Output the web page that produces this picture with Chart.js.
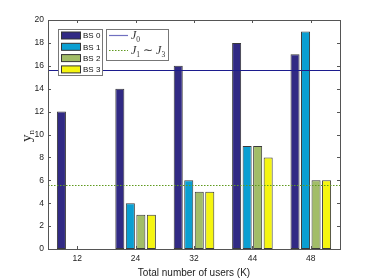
<!DOCTYPE html>
<html><head><meta charset="utf-8">
<script src="https://cdn.jsdelivr.net/npm/chart.js@4/dist/chart.umd.min.js"></script>
<style>html,body{margin:0;padding:0;background:#fff}#wrap{width:374px;height:280px}</style>
</head><body><div id="wrap"><canvas id="c" width="374" height="280"></canvas></div>
<script>
const categories = ['12','24','32','44','48'];
const bs0 = [12,14,16,18,17];
const bs1 = [0,4,6,9,19];
const bs2 = [0,3,5,9,6];
const bs3 = [0,3,5,8,6];
const seriesLabels = ['BS 0','BS 1','BS 2','BS 3'];
const seriesColors = ['#312a84','#0a9fd2','#a2bd68','#f5f510'];
const yTicks = [0,2,4,6,8,10,12,14,16,18,20];
const levelJ0 = 15.6;
const levelJ13 = 5.55;

const FONT = 'Liberation Sans, Arial, sans-serif';
const AXC = '#555';

const decor = {
  id:'decor',
  afterDatasetsDraw(chart){
    const {ctx, chartArea:a, scales:{x,y}} = chart;
    ctx.save();
    ctx.lineWidth = 1.2;
    ctx.strokeStyle = '#1c1c8e';
    let py = Math.round(y.getPixelForValue(levelJ0))+0.5;
    ctx.beginPath(); ctx.moveTo(a.left,py); ctx.lineTo(a.right,py); ctx.stroke();
    ctx.strokeStyle = '#5f9a1e';
    ctx.setLineDash([1.5,1.5]);
    py = Math.round(y.getPixelForValue(levelJ13))+0.5;
    ctx.beginPath(); ctx.moveTo(a.left,py); ctx.lineTo(a.right,py); ctx.stroke();
    ctx.setLineDash([]);
    ctx.strokeStyle = AXC; ctx.lineWidth = 1;
    ctx.strokeRect(Math.round(a.left)+0.5, Math.round(a.top)+0.5, Math.round(a.right-a.left), Math.round(a.bottom-a.top));
    ctx.beginPath();
    yTicks.forEach(v=>{
      const p = Math.round(y.getPixelForValue(v))+0.5;
      ctx.moveTo(a.left,p); ctx.lineTo(a.left+3,p);
      ctx.moveTo(a.right,p); ctx.lineTo(a.right-3,p);
    });
    categories.forEach((c,i)=>{
      const p = Math.round(x.getPixelForValue(i))+0.5;
      ctx.moveTo(p,a.bottom); ctx.lineTo(p,a.bottom-3);
      ctx.moveTo(p,a.top); ctx.lineTo(p,a.top+3);
    });
    ctx.stroke();
    // legend 1
    const lx = 58, ly = 29;
    ctx.fillStyle = '#fff';
    ctx.fillRect(lx+0.5, ly+0.5, 44, 46);
    ctx.strokeStyle = '#777';
    ctx.strokeRect(lx+0.5, ly+0.5, 44, 46);
    ctx.font = '8px ' + FONT;
    ctx.textBaseline = 'middle';
    chart.data.datasets.slice(0,4).forEach((ds,i)=>{
      const cy = ly + 6.5 + i*11.3;
      ctx.fillStyle = ds.backgroundColor;
      ctx.fillRect(lx+3.5, cy-3.5, 19, 7);
      ctx.strokeStyle = '#333';
      ctx.strokeRect(lx+3.5, cy-3.5, 19, 7);
      ctx.fillStyle = '#111';
      ctx.fillText(ds.label, lx+25, cy+0.5);
    });
    // legend 2
    const mx = 106, my = 29;
    ctx.fillStyle = '#fff';
    ctx.fillRect(mx+0.5, my+0.5, 62, 31);
    ctx.strokeStyle = '#777';
    ctx.strokeRect(mx+0.5, my+0.5, 62, 31);
    ctx.lineWidth = 1.2;
    ctx.strokeStyle = '#7070c0';
    ctx.beginPath(); ctx.moveTo(mx+3, my+6.5); ctx.lineTo(mx+22, my+6.5); ctx.stroke();
    ctx.strokeStyle = '#5f9a1e';
    ctx.setLineDash([1.5,1.5]);
    ctx.beginPath(); ctx.moveTo(mx+3, my+21.5); ctx.lineTo(mx+22, my+21.5); ctx.stroke();
    ctx.setLineDash([]);
    ctx.fillStyle = '#333';
    ctx.textBaseline = 'alphabetic';
    const serif = 'Liberation Serif, Times New Roman, serif';
    function sub(base, s, x0, yb){
      ctx.font = 'italic 12px ' + serif;
      ctx.fillText(base, x0, yb);
      let w = ctx.measureText(base).width;
      ctx.font = '7.5px ' + serif;
      ctx.fillText(s, x0+w, yb+2.5);
      return x0 + w + ctx.measureText(s).width;
    }
    sub('J','0', mx+25, my+10);
    let xx = sub('J','1', mx+25, my+25);
    ctx.font = '12px ' + serif;
    ctx.fillText(' \u223C ', xx, my+25);
    xx += ctx.measureText(' \u223C ').width;
    sub('J','3', xx, my+25);
    // y title
    ctx.save();
    ctx.translate(31, 136);
    ctx.rotate(-Math.PI/2);
    ctx.fillStyle = '#222';
    ctx.textBaseline = 'alphabetic';
    ctx.font = '15px ' + serif;
    const wy = ctx.measureText('y').width;
    ctx.font = '9px ' + serif;
    const wn = ctx.measureText('n').width;
    const x0 = -(wy+wn)/2;
    ctx.font = '15px ' + serif;
    ctx.fillText('y', x0, 0);
    ctx.font = '9px ' + serif;
    ctx.fillText('n', x0+wy, 3);
    ctx.restore();
    // x title
    ctx.fillStyle = '#222';
    ctx.font = '10px ' + FONT;
    ctx.textAlign = 'center';
    ctx.textBaseline = 'middle';
    ctx.fillText('Total number of users (K)', (a.left+a.right)/2, 273);
    ctx.restore();
  }
};

const mk = (i,data)=>({label:seriesLabels[i], data, backgroundColor:seriesColors[i], borderColor:'#3a3a3a', borderWidth:1, borderSkipped:false, categoryPercentage:0.72, barPercentage:0.86});

new Chart(document.getElementById('c'), {
  type:'bar',
  data:{labels:categories, datasets:[mk(0,bs0),mk(1,bs1),mk(2,bs2),mk(3,bs3)]},
  options:{
    responsive:false, animation:false, devicePixelRatio:1,
    layout:{padding:{left:0,right:34,top:20,bottom:0}},
    plugins:{legend:{display:false}, tooltip:{enabled:false}},
    scales:{
      x:{
        grid:{display:false, drawTicks:false}, border:{display:false},
        ticks:{color:'#222', font:{family:FONT,size:8.5}, padding:5},
        afterFit(s){ s.height = 31; }
      },
      y:{
        min:0, max:20,
        grid:{display:false, drawTicks:false}, border:{display:false},
        afterBuildTicks(s){ s.ticks = yTicks.map(v=>({value:v})); },
        ticks:{color:'#222', font:{family:FONT,size:8.5}, padding:4},
        afterFit(s){ s.width = 48; }
      }
    }
  },
  plugins:[decor]
});
</script></body></html>
